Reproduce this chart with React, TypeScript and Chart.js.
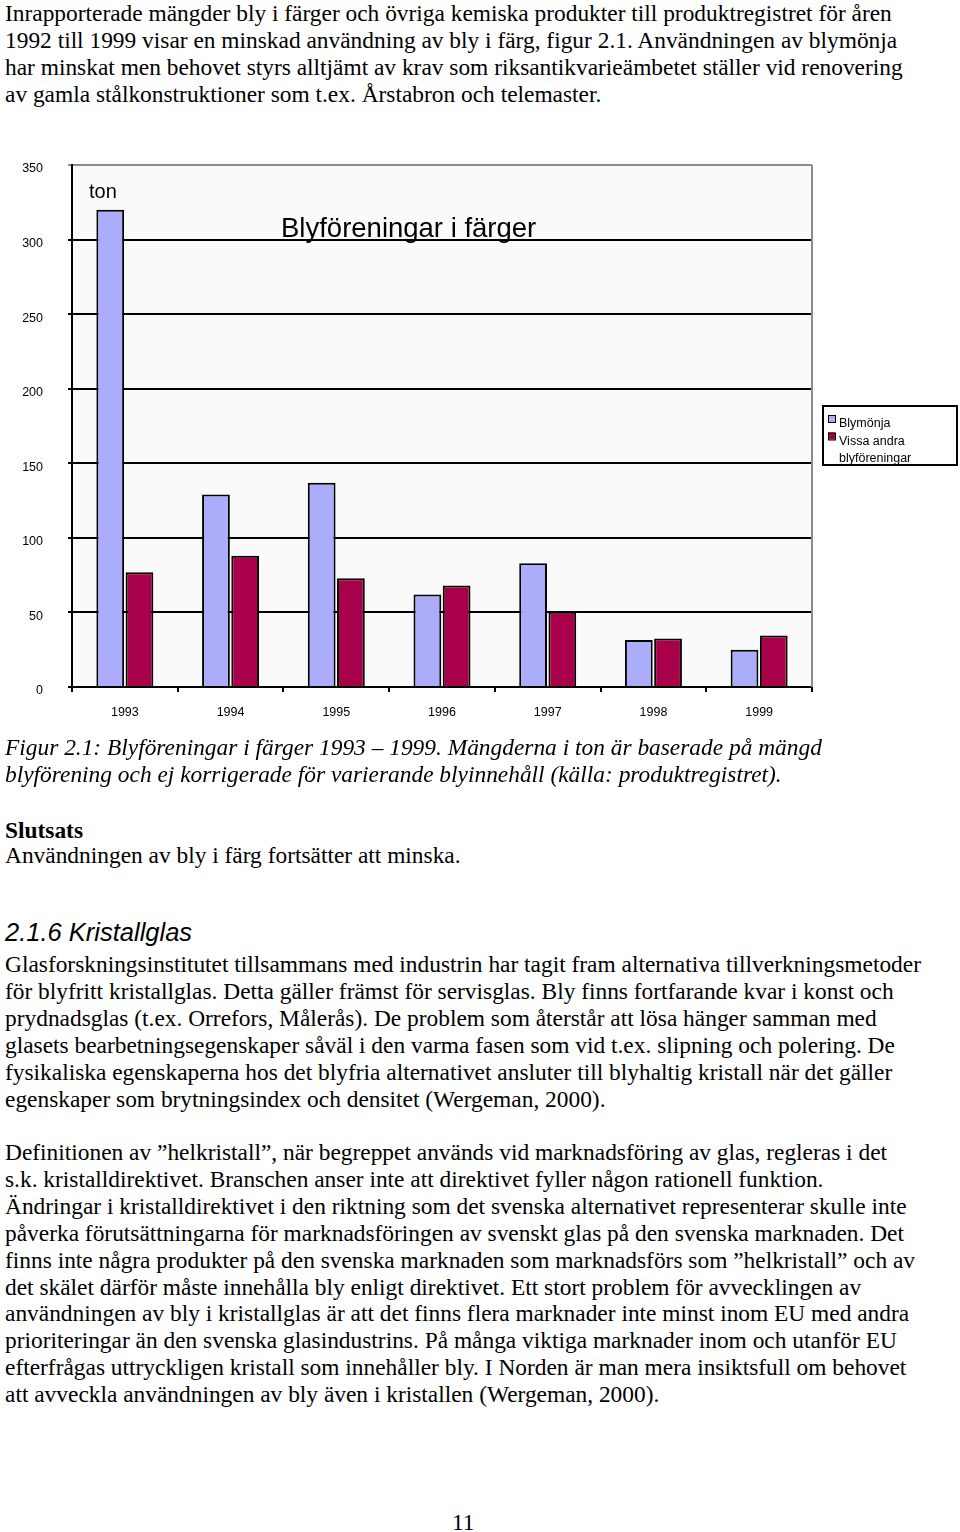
import React, { useEffect, useRef } from "react";
import { Chart, registerables } from "chart.js";

Chart.register(...registerables);

// ---- Data ----
const YEARS = ["1993", "1994", "1995", "1996", "1997", "1998", "1999"];
const BLYMONJA = [320, 129, 137, 62, 83, 31.5, 25];
const VISSA_ANDRA = [77, 88, 73, 68, 50.5, 32.5, 34.5];
const SERIES_LABELS = ["Blymönja", "Vissa andra blyföreningar"];
const SERIES_COLORS = ["#ABADFA", "#A8004A"];
const Y_MIN = 0;
const Y_MAX = 350;
const Y_STEP = 50;
const CHART_TITLE = "Blyföreningar i färger";
const UNIT_LABEL = "ton";

// ---- Page text ----
const PARA1 = [
  "Inrapporterade mängder bly i färger och övriga kemiska produkter till produktregistret för åren",
  "1992 till 1999 visar en minskad användning av bly i färg, figur 2.1. Användningen av blymönja",
  "har minskat men behovet styrs alltjämt av krav som riksantikvarieämbetet ställer vid renovering",
  "av gamla stålkonstruktioner som t.ex. Årstabron och telemaster.",
];
const CAPTION = [
  "Figur 2.1: Blyföreningar i färger 1993 – 1999. Mängderna i ton är baserade på mängd",
  "blyförening och ej korrigerade för varierande blyinnehåll (källa: produktregistret).",
];
const CONCLUSION_HEAD = "Slutsats";
const CONCLUSION = "Användningen av bly i färg fortsätter att minska.";
const HEADING = "2.1.6 Kristallglas";
const PARA2 = [
  "Glasforskningsinstitutet tillsammans med industrin har tagit fram alternativa tillverkningsmetoder",
  "för blyfritt kristallglas. Detta gäller främst för servisglas. Bly finns fortfarande kvar i konst och",
  "prydnadsglas (t.ex. Orrefors, Målerås). De problem som återstår att lösa hänger samman med",
  "glasets bearbetningsegenskaper såväl i den varma fasen som vid t.ex. slipning och polering. De",
  "fysikaliska egenskaperna hos det blyfria alternativet ansluter till blyhaltig kristall när det gäller",
  "egenskaper som brytningsindex och densitet (Wergeman, 2000).",
];
const PARA3 = [
  "Definitionen av ”helkristall”, när begreppet används vid marknadsföring av glas, regleras i det",
  "s.k. kristalldirektivet. Branschen anser inte att direktivet fyller någon rationell funktion.",
  "Ändringar i kristalldirektivet i den riktning som det svenska alternativet representerar skulle inte",
  "påverka förutsättningarna för marknadsföringen av svenskt glas på den svenska marknaden. Det",
  "finns inte några produkter på den svenska marknaden som marknadsförs som ”helkristall” och av",
  "det skälet därför måste innehålla bly enligt direktivet. Ett stort problem för avvecklingen av",
  "användningen av bly i kristallglas är att det finns flera marknader inte minst inom EU med andra",
  "prioriteringar än den svenska glasindustrins. På många viktiga marknader inom och utanför EU",
  "efterfrågas uttryckligen kristall som innehåller bly. I Norden är man mera insiktsfull om behovet",
  "att avveckla användningen av bly även i kristallen (Wergeman, 2000).",
];
const PAGE_NUMBER = "11";

const SANS = "'Liberation Sans', Arial, sans-serif";
const SERIF = "'Liberation Serif', 'Times New Roman', serif";

const overlayPlugin = {
  id: "overlay",
  beforeDraw(chart: any) {
    const { ctx, chartArea: a } = chart;
    ctx.save();
    ctx.fillStyle = "#FAFAFA";
    ctx.fillRect(a.left, a.top, a.right - a.left, a.bottom - a.top);
    ctx.restore();
  },
  afterDraw(chart: any) {
    const { ctx, chartArea: a } = chart;
    ctx.save();
    // right border (gray)
    ctx.strokeStyle = "#8C8C8C";
    ctx.lineWidth = 2;
    ctx.beginPath();
    ctx.moveTo(a.right, a.top);
    ctx.lineTo(a.right, a.bottom);
    ctx.stroke();

    // title inside plot
    ctx.fillStyle = "#000";
    ctx.font = `27.5px ${SANS}`;
    ctx.textAlign = "left";
    ctx.textBaseline = "alphabetic";
    ctx.fillText(CHART_TITLE, a.left + 209, a.top + 72);
    // unit label
    ctx.font = `20px ${SANS}`;
    ctx.fillText(UNIT_LABEL, a.left + 17, a.top + 33);

    // legend box
    const bx = a.right + 11;
    const bw = 134;
    const bh = 59;
    const by = (a.top + a.bottom) / 2 - 20;
    ctx.fillStyle = "#fff";
    ctx.fillRect(bx, by, bw, bh);
    ctx.strokeStyle = "#000";
    ctx.lineWidth = 2;
    ctx.strokeRect(bx, by, bw, bh);

    ctx.font = `12.5px ${SANS}`;
    let baseline = by + 21;
    chart.data.datasets.forEach((ds: any) => {
      const sy = baseline - 12;
      ctx.fillStyle = ds.backgroundColor;
      ctx.fillRect(bx + 5, sy, 7, 7);
      ctx.strokeStyle = "#000";
      ctx.lineWidth = 1;
      ctx.strokeRect(bx + 5.5, sy + 0.5, 7, 7);
      const words = String(ds.label).split(" ");
      const lines: string[] = [];
      let cur = "";
      words.forEach((w) => {
        const t = cur ? cur + " " + w : w;
        if (ctx.measureText(t).width > bw - 22 && cur) {
          lines.push(cur);
          cur = w;
        } else cur = t;
      });
      if (cur) lines.push(cur);
      ctx.fillStyle = "#000";
      lines.forEach((ln) => {
        ctx.fillText(ln, bx + 16, baseline);
        baseline += 17.5;
      });
    });
    ctx.restore();
  },
};

function ChartBox() {
  const ref = useRef<HTMLCanvasElement | null>(null);
  useEffect(() => {
    if (!ref.current) return;
    const chart = new Chart(ref.current, {
      type: "bar",
      data: {
        labels: YEARS,
        datasets: [
          {
            label: SERIES_LABELS[0],
            data: BLYMONJA,
            backgroundColor: SERIES_COLORS[0],
            borderColor: "#000",
            borderWidth: 2,
          },
          {
            label: SERIES_LABELS[1],
            data: VISSA_ANDRA,
            backgroundColor: SERIES_COLORS[1],
            borderColor: "#000",
            borderWidth: 2,
          },
        ],
      },
      options: {
        animation: false,
        responsive: false,
        maintainAspectRatio: false,
        layout: { padding: { top: 15, right: 148, left: 0, bottom: 0 } },
        datasets: { bar: { categoryPercentage: 0.553, barPercentage: 0.95 } },
        plugins: {
          legend: { display: false },
          title: { display: false },
          tooltip: { enabled: false },
        },
        scales: {
          x: {
            grid: {
              display: true,
              drawOnChartArea: false,
              drawTicks: true,
              tickLength: 5,
              color: "#000",
              lineWidth: 2,
              offset: true,
            },
            border: { display: true, color: "#000", width: 2 },
            ticks: {
              color: "#000",
              font: { family: SANS, size: 12.5 },
              padding: 13,
            },
            afterFit: (s: any) => {
              s.height = 48;
            },
          },
          y: {
            min: Y_MIN,
            max: Y_MAX,
            grid: {
              color: (c: any) => (c.tick && c.tick.value === Y_MAX ? "#8C8C8C" : "#000"),
              lineWidth: 2,
              tickLength: 4,
              drawTicks: true,
            },
            border: { display: true, color: "#000", width: 2 },
            ticks: {
              stepSize: Y_STEP,
              color: "#000",
              font: { family: SANS, size: 12.5 },
              padding: 25,
              labelOffset: 4,
            },
            afterFit: (s: any) => {
              s.width = 72;
              s.paddingTop = 0;
              s.paddingBottom = 0;
            },
          },
        },
      },
      plugins: [overlayPlugin],
    });
    return () => chart.destroy();
  }, []);
  return (
    <canvas
      ref={ref}
      width={960}
      height={585}
      style={{ position: "absolute", left: 0, top: 150, width: 960, height: 585 }}
    />
  );
}

const lineStyle = (top: number, extra: React.CSSProperties = {}): React.CSSProperties => ({
  position: "absolute",
  left: 5,
  top,
  whiteSpace: "nowrap",
  fontFamily: SERIF,
  fontSize: 23.4,
  lineHeight: "27px",
  color: "#000",
  ...extra,
});

function Lines({ lines, top, step = 26.9, extra = {} }: { lines: string[]; top: number; step?: number; extra?: React.CSSProperties }) {
  return (
    <>
      {lines.map((l, i) => (
        <div key={i} style={lineStyle(top + i * step, extra)}>
          {l}
        </div>
      ))}
    </>
  );
}

export default function App() {
  return (
    <div style={{ position: "absolute", left: 0, top: 0, width: 960, height: 1532, background: "#fff", overflow: "hidden" }}>
      <Lines lines={PARA1} top={0} />
      <ChartBox />
      <Lines lines={CAPTION} top={734} extra={{ fontStyle: "italic" }} />
      <div style={lineStyle(817, { fontWeight: "bold" })}>{CONCLUSION_HEAD}</div>
      <div style={lineStyle(842)}>{CONCLUSION}</div>
      <div style={lineStyle(917, { fontFamily: SANS, fontStyle: "italic", fontSize: 25.5, lineHeight: "30px" })}>{HEADING}</div>
      <Lines lines={PARA2} top={951} />
      <Lines lines={PARA3} top={1139} />
      <div style={lineStyle(1509, { left: 452 })}>{PAGE_NUMBER}</div>
    </div>
  );
}
